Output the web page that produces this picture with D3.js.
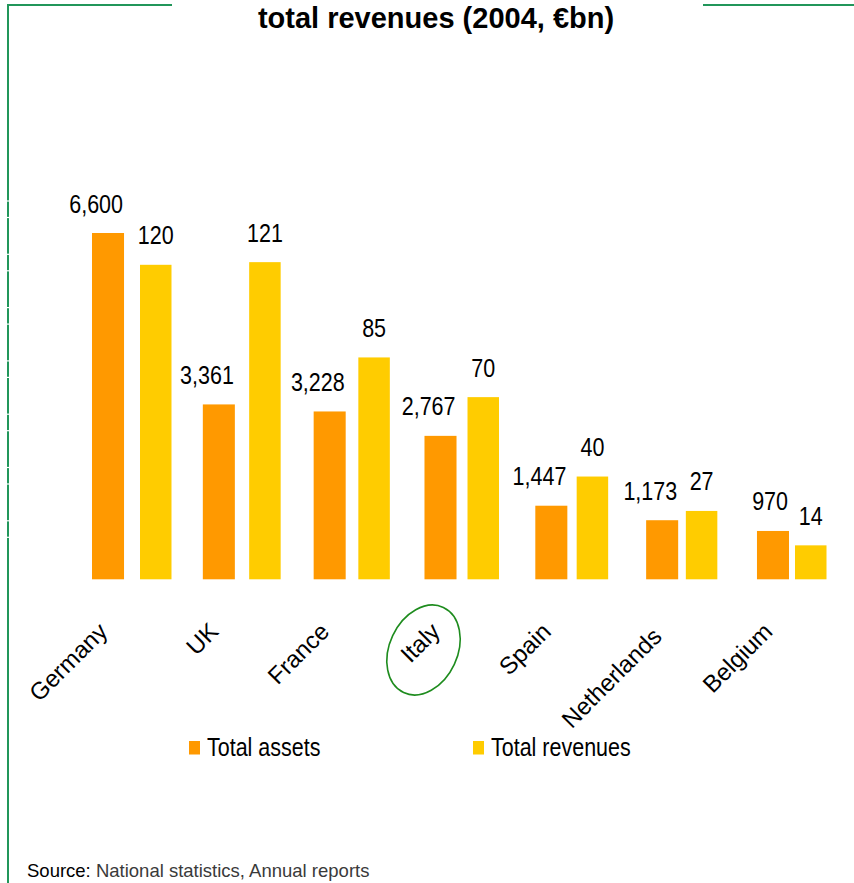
<!DOCTYPE html>
<html>
<head>
<meta charset="utf-8">
<script src="https://cdn.jsdelivr.net/npm/d3@7"></script>
<style>
  html, body { margin: 0; padding: 0; background: #fff; }
  svg { display: block; font-family: "Liberation Sans", Arial, sans-serif; }
</style>
</head>
<body>
<svg id="chart" width="854" height="883"></svg>
<script>
// Banking sector size by country, 2004 (€bn)
const countries = ["Germany", "UK", "France", "Italy", "Spain", "Netherlands", "Belgium"];
const totalAssets = [6600, 3361, 3228, 2767, 1447, 1173, 970];
const totalRevenues = [120, 121, 85, 70, 40, 27, 14];
const seriesNames = ["Total assets", "Total revenues"];
const highlighted = "Italy";

const colors = { assets: "#FF9900", revenues: "#FFCC00", frame: "#21965A", circle: "#1E8C1E" };
const fmt = d3.format(",");

const svg = d3.select("#chart");
const baseY = 579.3;

// Each series sits on its own band and value scale
const xA = d3.scaleBand().domain(countries).range([92, 789]).paddingInner(0.711).paddingOuter(0);
const xR = d3.scaleBand().domain(countries).range([140, 826.5]).paddingInner(0.7115).paddingOuter(0);
const yA = d3.scaleLinear().domain([0, 6600]).range([582.3, 233]);
const yR = d3.scaleLinear().domain([0, 120]).range([582.4, 264.8]);

// Frame lines
svg.append("line").attr("x1", 8).attr("x2", 172).attr("y1", 5).attr("y2", 5)
  .attr("stroke", colors.frame).attr("stroke-width", 2);
svg.append("line").attr("x1", 703).attr("x2", 854).attr("y1", 5).attr("y2", 5)
  .attr("stroke", colors.frame).attr("stroke-width", 2);
svg.append("line").attr("x1", 8).attr("x2", 8).attr("y1", 4).attr("y2", 883)
  .attr("stroke", colors.frame).attr("stroke-width", 2);
// small notches along the left rule
const notches = d3.range(7).flatMap(k => [201 + 53.3 * k, 217.5 + 53.3 * k]);
svg.selectAll("line.notch").data(notches).join("line").attr("class", "notch")
  .attr("x1", 6).attr("x2", 10).attr("y1", d => d).attr("y2", d => d)
  .attr("stroke", "#fff").attr("stroke-width", 1.2);

// Title
svg.append("text").attr("x", 436).attr("y", 28).attr("text-anchor", "middle")
  .attr("font-weight", "bold").attr("font-size", 29).attr("fill", "#000")
  .text("total revenues (2004, €bn)");

const data = countries.map((c, i) => ({ c, a: totalAssets[i], r: totalRevenues[i] }));

// Bars
svg.selectAll("rect.assets").data(data).join("rect").attr("class", "assets")
  .attr("x", d => xA(d.c)).attr("width", xA.bandwidth())
  .attr("y", d => yA(d.a)).attr("height", d => baseY - yA(d.a))
  .attr("fill", colors.assets);
svg.selectAll("rect.revenues").data(data).join("rect").attr("class", "revenues")
  .attr("x", d => xR(d.c)).attr("width", xR.bandwidth())
  .attr("y", d => yR(d.r)).attr("height", d => baseY - yR(d.r))
  .attr("fill", colors.revenues);

// Value labels (narrow face)
const sx = 0.84;
svg.selectAll("text.va").data(data).join("text").attr("class", "va")
  .attr("transform", d => `translate(${xA(d.c) + xA.bandwidth() - 1},${yA(d.a) - 20.5}) scale(${sx},1)`)
  .attr("text-anchor", "end").attr("font-size", 25.6).attr("fill", "#000")
  .text(d => fmt(d.a));
svg.selectAll("text.vr").data(data).join("text").attr("class", "vr")
  .attr("transform", d => `translate(${xR(d.c) + xR.bandwidth() / 2},${yR(d.r) - 20.5}) scale(${sx},1)`)
  .attr("text-anchor", "middle").attr("font-size", 25.6).attr("fill", "#000")
  .text(d => fmt(d.r));

// Category labels
svg.selectAll("text.cat").data(countries).join("text").attr("class", "cat")
  .attr("transform", c => `translate(${xA(c) + xA.bandwidth() / 2 + 1},${c === "Netherlands" ? 638 : 633}) rotate(-45)`)
  .attr("text-anchor", "end").attr("font-size", 24).attr("fill", "#000")
  .text(c => c);

// Highlight ring
svg.append("ellipse")
  .attr("transform", `translate(${xA(highlighted) + xA.bandwidth() / 2 - 17},650) rotate(25)`)
  .attr("rx", 34).attr("ry", 47)
  .attr("fill", "none").attr("stroke", colors.circle).attr("stroke-width", 1.6);

// Legend
const legend = [
  { name: seriesNames[0], color: colors.assets, x: 189 },
  { name: seriesNames[1], color: colors.revenues, x: 473 }
];
const lg = svg.selectAll("g.lg").data(legend).join("g").attr("class", "lg")
  .attr("transform", d => `translate(${d.x},741)`);
lg.append("rect").attr("width", 11).attr("height", 13.5).attr("fill", d => d.color);
lg.append("text").attr("transform", `translate(18,15) scale(0.86,1)`)
  .attr("font-size", 25).attr("fill", "#000").text(d => d.name);

// Source
const src = svg.append("text").attr("x", 27).attr("y", 877).attr("font-size", 18.5);
src.append("tspan").attr("fill", "#000").text("Source:");
src.append("tspan").attr("fill", "#3a3a3a").text(" National statistics, Annual reports");
</script>
</body>
</html>
